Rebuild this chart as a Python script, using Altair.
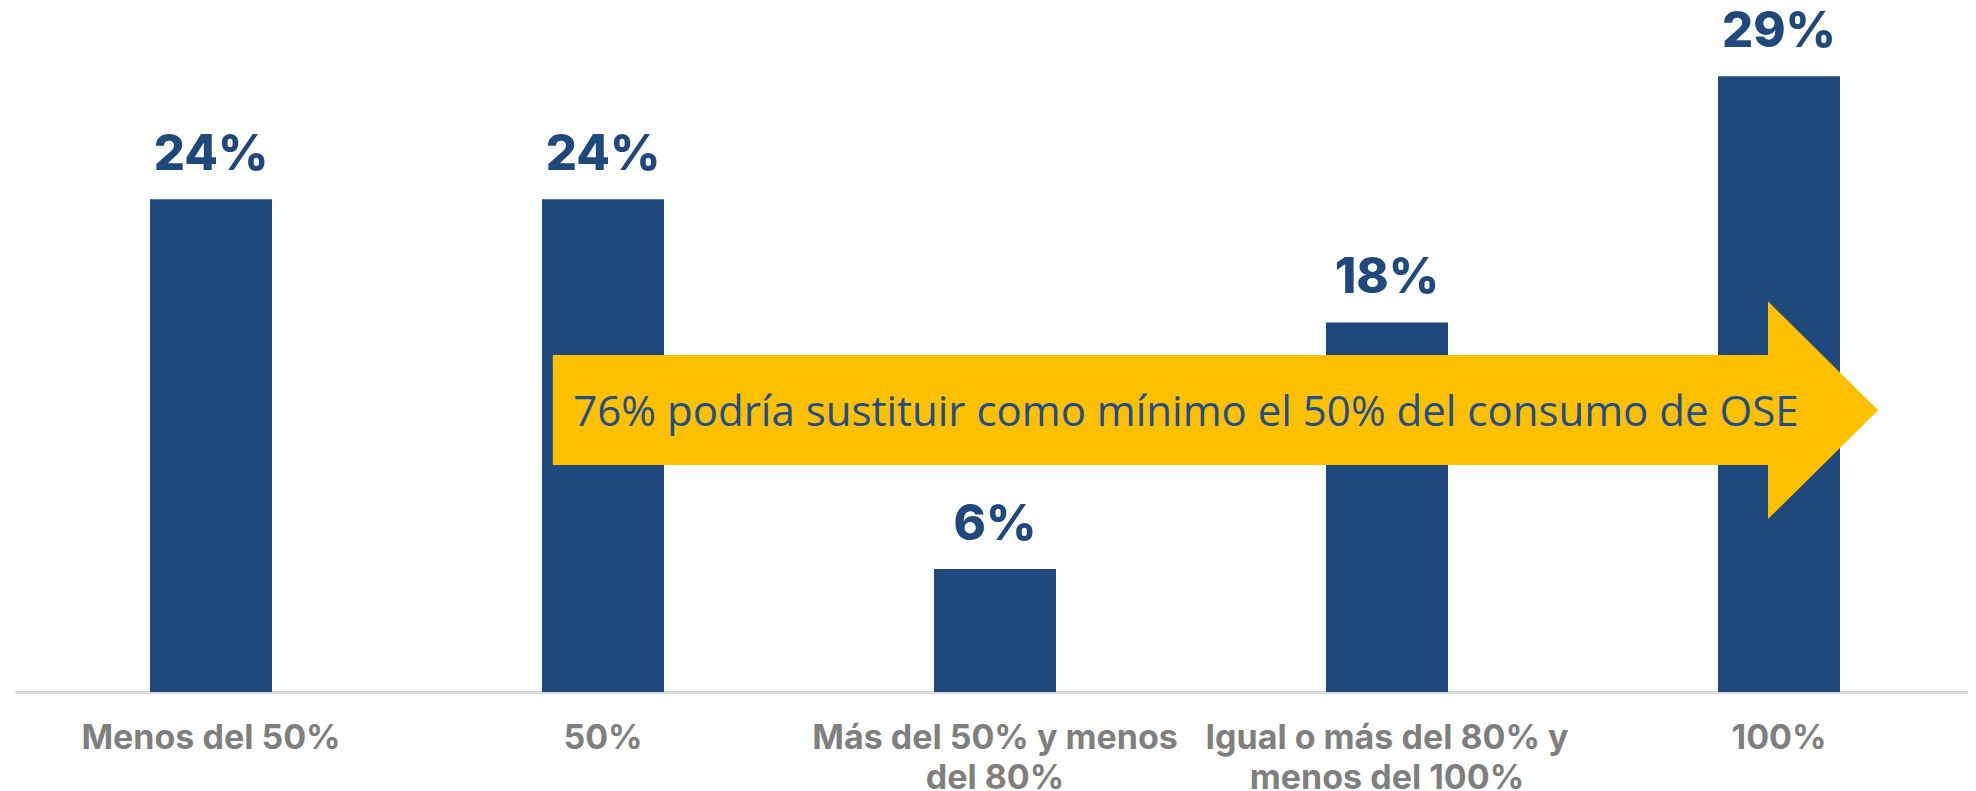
import altair as alt
import pandas as pd

# ---- data ----
categories = [
    "Menos del 50%",
    "50%",
    "Más del 50% y menos\ndel 80%",
    "Igual o más del 80% y\nmenos del 100%",
    "100%",
]
values = [23.53, 23.53, 5.88, 17.65, 29.41]          # percent
value_labels = ["24%", "24%", "6%", "18%", "29%"]

# arrow annotation (x in category units 0..5, y in percent units)
body_x = [1.372]
body_x2 = [4.472]
body_lo = [10.84]
body_hi = [16.09]
head_x = [4.472, 4.753]
head_lo = [8.26, 13.46]
head_hi = [18.66, 13.46]
arrow_text = ["76% podría sustituir como mínimo el 50% del consumo de OSE"]
arrow_text_x = [2.987]
arrow_text_y = [12.70]

BAR = "#1F497D"
GOLD = "#FFC000"

df = pd.DataFrame({"cat": categories, "val": values, "lab": value_labels})
body_df = pd.DataFrame({"x": body_x, "x2": body_x2, "lo": body_lo, "hi": body_hi})
head_df = pd.DataFrame({"x": head_x, "lo": head_lo, "hi": head_hi})
text_df = pd.DataFrame({"x": arrow_text_x, "y": arrow_text_y, "t": arrow_text})

RANGE = [0, 1960]
yscale = alt.Scale(domain=[0, 32])
xband = alt.X(
    "cat:N",
    sort=categories,
    scale=alt.Scale(paddingInner=0, paddingOuter=0, range=RANGE),
    axis=alt.Axis(
        title=None,
        labelAngle=0,
        ticks=False,
        tickSize=0,
        labelPadding=29,
        labelFont="Inter",
        labelFontWeight="bold",
        labelFontSize=34,
        labelColor="#7F7F7F",
        labelLineHeight=40,
        labelExpr="split(datum.label, '\\n')",
        domainColor="#D9D9D9",
        domainWidth=3,
        grid=False,
        labelLimit=0,
    ),
)

bars = alt.Chart(df).mark_bar(size=122, color=BAR).encode(
    x=xband,
    y=alt.Y("val:Q", scale=yscale, axis=None),
)

labels = alt.Chart(df).mark_text(
    font="Inter", fontWeight=800, fontSize=49, color=BAR,
    baseline="alphabetic", align="center", dy=-29,
).encode(
    x=alt.X("cat:N", sort=categories),
    y=alt.Y("val:Q", scale=yscale),
    text="lab:N",
)

xq = alt.Scale(domain=[0, 5], nice=False, zero=False, range=RANGE)

body = alt.Chart(body_df).mark_rect(color=GOLD).encode(
    x=alt.X("x:Q", scale=xq, axis=None),
    x2="x2:Q",
    y=alt.Y("lo:Q", scale=yscale),
    y2="hi:Q",
)

head = alt.Chart(head_df).mark_area(color=GOLD, interpolate="linear").encode(
    x=alt.X("x:Q", scale=xq, axis=None),
    y=alt.Y("lo:Q", scale=yscale),
    y2="hi:Q",
)

arrow_txt = alt.Chart(text_df).mark_text(
    font="Open Sans", fontSize=42, color="#1F4E8F",
    baseline="alphabetic", align="center",
).encode(
    x=alt.X("x:Q", scale=xq, axis=None),
    y=alt.Y("y:Q", scale=yscale),
    text="t:N",
)

chart = alt.layer(
    alt.layer(bars, labels),
    alt.layer(body, head, arrow_txt),
).resolve_scale(x="independent").properties(
    width=1953,
    height=670,
    padding={"left": 7, "top": 14, "right": 0, "bottom": 110},
    autosize=alt.AutoSizeParams(type="none"),
    background="white",
).configure_view(stroke=None)

chart.save("out.html", embed_options={"renderer": "svg", "actions": False})
